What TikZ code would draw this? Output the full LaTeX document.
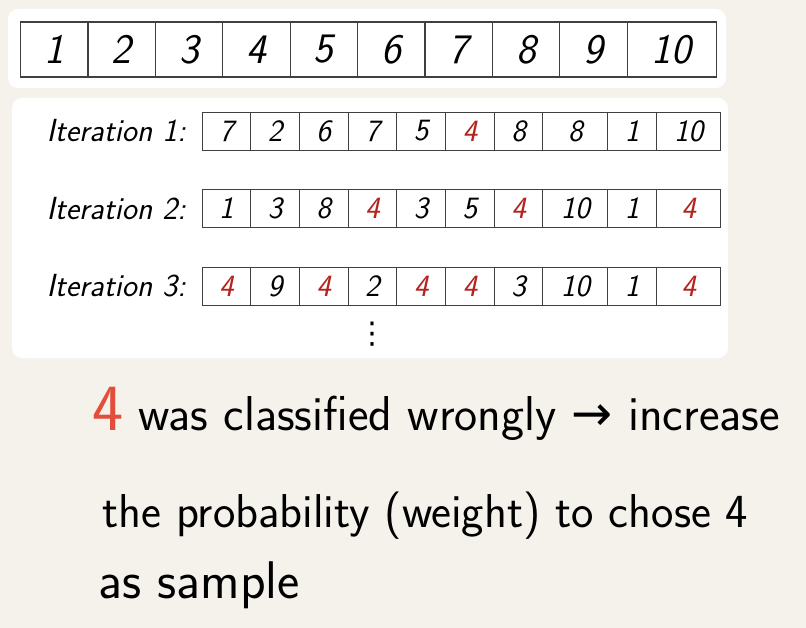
\documentclass[tikz,border=0pt]{standalone}
\usepackage{fontspec}
\usetikzlibrary{positioning}
\newfontfamily\symfont{DejaVu Sans}
\definecolor{paper}{RGB}{245,242,236}
\definecolor{wrong}{RGB}{180,36,30}
\definecolor{pen}{RGB}{226,78,58}
\newcommand{\fs}[1]{\fontsize{#1}{#1}\selectfont}

\tikzset{
  panel/.style={fill=white, rounded corners=10pt},
  cell/.style={draw=black!75, line width=0.9pt, inner sep=0pt, outer sep=0pt,
    minimum height=38pt, minimum width=48.7pt,
    font=\sffamily\itshape\fs{31}},
  bigcell/.style={cell, line width=1.2pt, minimum height=55pt,
    minimum width=67.4pt, font=\sffamily\itshape\fs{42}},
  rowlabel/.style={anchor=east, inner sep=0pt, font=\sffamily\itshape\fs{32}},
  hand/.style={anchor=base west, inner sep=0pt, font=\sffamily\fs{49}}
}

\begin{document}
\begin{tikzpicture}[x=1pt, y=-1pt]
  \fill[paper] (0,0) rectangle (806,628);
  \useasboundingbox (0,0) rectangle (806,628);
  \fill[panel] (8,9) rectangle (726,88);
  \fill[panel] (12,98) rectangle (728,358);

  % the ten samples
  \node (t1) [bigcell, anchor=west] at (20.5,49.5) {1};
  \foreach \v [count=\i from 2] in {2,...,10} {
    \pgfmathtruncatemacro\j{\i-1}
    \ifnum\i=10
      \node (t\i) [bigcell, minimum width=89pt, right=0pt of t\j] {\v};
    \else
      \node (t\i) [bigcell, right=0pt of t\j] {\v};
    \fi
  }

  % resampled rows
  \foreach \vals [count=\r] in {{7,2,6,7,5,4,8,8,1,10},
                                {1,3,8,4,3,5,4,10,1,4},
                                {4,9,4,2,4,4,3,10,1,4}} {
    \pgfmathsetmacro\y{131+(\r-1)*77.5}
    \coordinate (r\r c0) at (202,\y);
    \node (lab\r) [rowlabel] at (186,\y) {Iteration \r:};
    \foreach \v [count=\i] in \vals {
      \pgfmathtruncatemacro\j{\i-1}
      \ifnum\v=4 \def\cellcol{wrong}\else\def\cellcol{black}\fi
      \ifnum\i=8 \def\cellw{65pt}\else\ifnum\i=10 \def\cellw{64pt}\else\def\cellw{48.7pt}\fi\fi
      \node (r\r c\i) [cell, minimum width=\cellw, text=\cellcol,
        anchor=west] at (r\r c\j.east) {\v};
    }
  }
  \node (dots) [below=17pt of r3c4, inner sep=0pt, font=\symfont\fs{30}] {⋮};

  % note
  \node (note1) [hand] at (92,430)
    {\textcolor{pen}{\fs{66}4} was classified wrongly {\symfont→} increase};
  \node (note2) [hand, font=\sffamily\fs{47.5}] at (102,527)
    {the probability (weight) to chose 4};
  \node (note3) [hand, font=\sffamily\fs{53}] at (98,598) {as sample};
\end{tikzpicture}
\end{document}
